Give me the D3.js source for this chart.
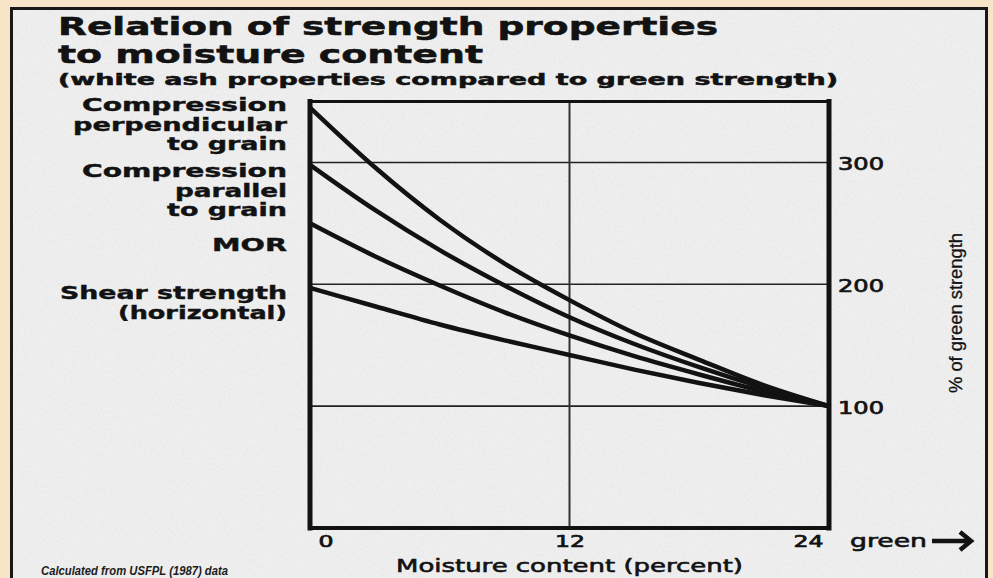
<!DOCTYPE html>
<html>
<head>
<meta charset="utf-8">
<script src="https://cdn.jsdelivr.net/npm/d3@7"></script>
<style>
  html, body { margin: 0; padding: 0; background: #f8e4c6; }
  svg { display: block; }
</style>
</head>
<body>
<svg id="chart" width="993" height="578"></svg>
<script>
// moisture content (percent) where the curves were read
var moisture = [0, 3, 6, 9, 12, 15, 18, 21, 24];
// % of green strength
var compPerp = [345, 296, 253, 217, 187, 160, 138, 117, 100];
var compPar  = [298, 261, 228, 199, 173, 151, 132, 115, 100];
var mor      = [250, 223, 199, 177, 158, 141, 126, 112, 100];
var shear    = [197, 182, 167, 154, 142, 130, 119, 109, 100];

var seriesLabels = [
  ['Compression', 'perpendicular', 'to grain'],
  ['Compression', 'parallel', 'to grain'],
  ['MOR'],
  ['Shear strength', '(horizontal)']
];
var xTicks = [0, 12, 24];
var yTicks = [100, 200, 300];

var svg = d3.select('#chart');
var W = 993, H = 578;
var ink = '#121212';

// stretch text horizontally to the wide face used in the original
function fit(sel, width) {
  sel.attr('textLength', width).attr('lengthAdjust', 'spacingAndGlyphs');
}
// medium weight: regular face with a thin outline
function medium(sel, sw) {
  sel.attr('stroke', ink).attr('stroke-width', sw || 0.45).attr('paint-order', 'stroke');
}

// paper texture
var defs = svg.append('defs');
var f = defs.append('filter').attr('id', 'paper').attr('x', 0).attr('y', 0).attr('width', 1).attr('height', 1);
f.append('feTurbulence').attr('type', 'fractalNoise').attr('baseFrequency', '0.9 0.35').attr('numOctaves', 2).attr('seed', 3);
f.append('feColorMatrix').attr('type', 'matrix')
  .attr('values', '0 0 0 0 0.5  0 0 0 0 0.5  0 0 0 0 0.5  0 0 0 -0.9 0.55');

svg.append('rect').attr('x', 0).attr('y', 0).attr('width', W).attr('height', H).attr('fill', '#f8e4c6');
svg.append('rect').attr('x', 11.5).attr('y', 8.5).attr('width', 975).attr('height', 600)
  .attr('fill', '#efefef').attr('stroke', '#181818').attr('stroke-width', 3);
svg.append('rect').attr('x', 13).attr('y', 10).attr('width', 972).attr('height', 570)
  .attr('filter', 'url(#paper)').attr('opacity', 0.3);

var x = d3.scaleLinear().domain([0, 24]).range([310, 829]);
var y = d3.scaleLinear().domain([0, 350]).range([528, 101.5]);

// titles
var titles = [
  { t: 'Relation of strength properties', y: 35, size: 24, w: 660 },
  { t: 'to moisture content', y: 63, size: 24, w: 425 },
  { t: '(white ash properties compared to green strength)', y: 85, size: 15.5, w: 780 }
];
titles.forEach(function (d) {
  svg.append('text').attr('x', 58).attr('y', d.y)
    .style('font-family', "'DejaVu Sans', sans-serif").style('font-weight', 700)
    .style('font-size', d.size + 'px').attr('fill', ink)
    .text(d.t).call(fit, d.w).call(medium, 0.5);
});

// grid
var grid = svg.append('g');
grid.selectAll('line.h').data(yTicks).enter().append('line')
  .attr('x1', x(0)).attr('x2', x(24)).attr('y1', function (d) { return y(d); }).attr('y2', function (d) { return y(d); })
  .attr('stroke', '#222').attr('stroke-width', 1.6);
grid.append('line').attr('x1', x(12)).attr('x2', x(12)).attr('y1', y(350)).attr('y2', y(0))
  .attr('stroke', '#333').attr('stroke-width', 2);

// curves
var all = [compPerp, compPar, mor, shear];
var line = d3.line()
  .curve(d3.curveMonotoneX)
  .x(function (d, i) { return x(moisture[i]); })
  .y(function (d) { return y(d); });
svg.append('g').selectAll('path').data(all).enter().append('path')
  .attr('d', line).attr('fill', 'none').attr('stroke', ink)
  .attr('stroke-width', 4.5).attr('stroke-linejoin', 'round');

// frame
var fr = svg.append('g').attr('stroke', ink).attr('stroke-linecap', 'square');
fr.append('line').attr('x1', x(0)).attr('x2', x(24)).attr('y1', y(350)).attr('y2', y(350)).attr('stroke-width', 3);
fr.append('line').attr('x1', x(0)).attr('x2', x(24)).attr('y1', y(0)).attr('y2', y(0)).attr('stroke-width', 4);
fr.append('line').attr('x1', x(0)).attr('x2', x(0)).attr('y1', y(350)).attr('y2', y(0)).attr('stroke-width', 5);
fr.append('line').attr('x1', x(24)).attr('x2', x(24)).attr('y1', y(350)).attr('y2', y(0)).attr('stroke-width', 5);

// right axis
var yAxis = svg.append('g').attr('transform', 'translate(' + x(24) + ',0)')
  .call(d3.axisRight(y).tickValues(yTicks).tickSize(0).tickPadding(9));
yAxis.select('.domain').remove();
yAxis.selectAll('text')
  .style('font-family', "'DejaVu Sans', sans-serif").style('font-size', '17.5px')
  .attr('fill', ink).attr('dy', '0.4em')
  .call(fit, 46).call(medium, 0.7);

svg.append('text')
  .attr('transform', 'translate(962,313) rotate(-90)')
  .attr('text-anchor', 'middle')
  .style('font-family', "'Liberation Sans', Arial, sans-serif").style('font-size', '18px')
  .attr('fill', ink).text('% of green strength').call(fit, 160).call(medium, 0.3);

// bottom axis
var xAxis = svg.append('g').attr('transform', 'translate(0,' + y(0) + ')')
  .call(d3.axisBottom(x).tickValues(xTicks).tickSize(0));
xAxis.select('.domain').remove();
xAxis.selectAll('text')
  .attr('y', 19).attr('dy', 0)
  .attr('x', function (d) { return d === 0 ? 8 : d === 24 ? -6 : 0; })
  .attr('text-anchor', function (d) { return d === 0 ? 'start' : d === 24 ? 'end' : 'middle'; })
  .style('font-family', "'DejaVu Sans', sans-serif").style('font-size', '16.5px')
  .attr('fill', ink)
  .each(function (d) { d3.select(this).call(fit, String(d).length * 15).call(medium, 0.7); });

svg.append('text').attr('x', 850).attr('y', 547)
  .style('font-family', "'DejaVu Sans', sans-serif").style('font-size', '17.5px')
  .attr('fill', ink).text('green').call(fit, 77).call(medium, 0.6);
svg.append('path').attr('d', 'M932,541H969M960,532L971,541L960,550')
  .attr('fill', 'none').attr('stroke', ink).attr('stroke-width', 4.5)
  .attr('stroke-linejoin', 'miter');

svg.append('text').attr('x', x(12)).attr('y', 572).attr('text-anchor', 'middle')
  .style('font-family', "'DejaVu Sans', sans-serif").style('font-size', '18.5px')
  .attr('fill', ink).text('Moisture content (percent)').call(fit, 347).call(medium, 0.6);

svg.append('text').attr('x', 41).attr('y', 575)
  .style('font-family', "'Liberation Sans', Arial, sans-serif").style('font-size', '12.5px')
  .style('font-weight', 700).style('font-style', 'italic').attr('fill', '#1c1c1c')
  .text('Calculated from USFPL (1987) data').call(fit, 187);

// series labels on the left
var labelPos = [
  { y: 111, w: [205, 214, 120] },
  { y: 177, w: [205, 112, 120] },
  { y: 251, w: [75] },
  { y: 299, w: [227, 169] }
];
var lab = svg.append('g');
seriesLabels.forEach(function (lines, i) {
  lines.forEach(function (t, j) {
    lab.append('text').attr('x', 287).attr('y', labelPos[i].y + j * 19.5)
      .attr('text-anchor', 'end')
      .style('font-family', "'DejaVu Sans', sans-serif").style('font-weight', 700)
      .style('font-size', '17px').attr('fill', ink)
      .text(t).call(fit, labelPos[i].w[j]).call(medium, 0.4);
  });
});
</script>
</body>
</html>
